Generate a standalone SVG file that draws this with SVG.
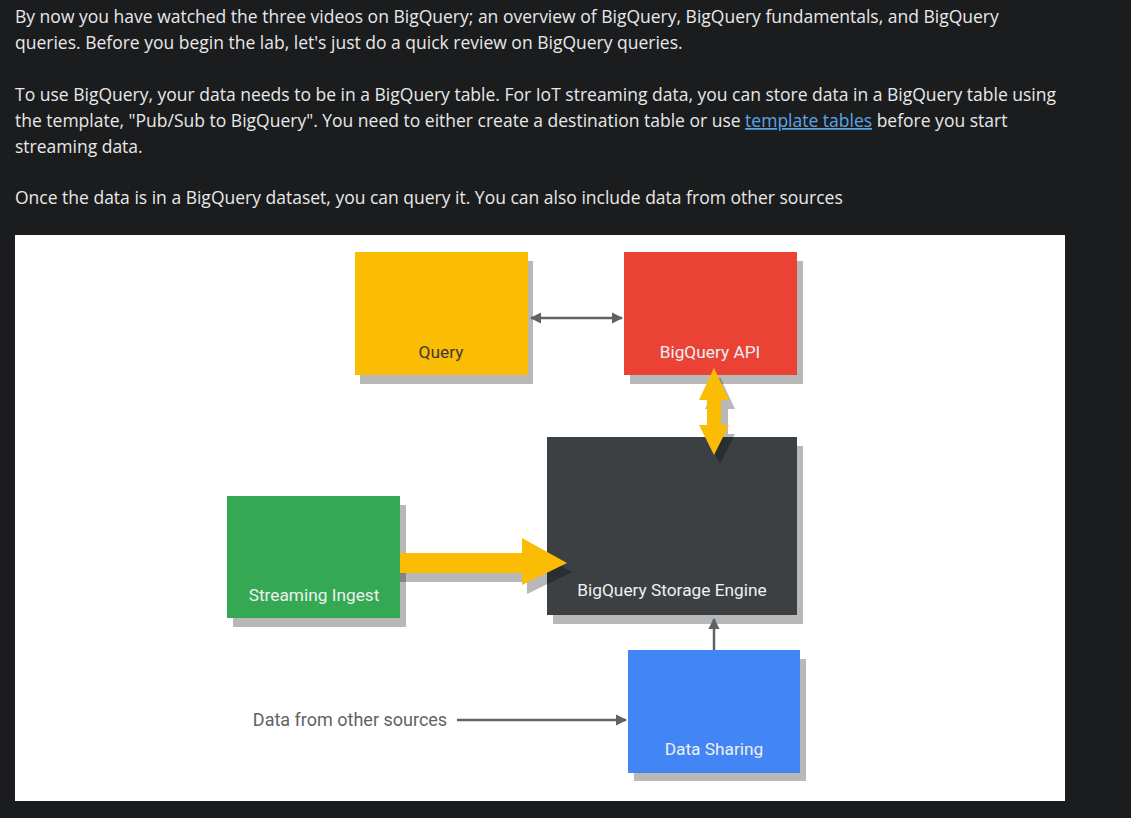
<svg xmlns="http://www.w3.org/2000/svg" width="1131" height="818" viewBox="0 0 1131 818">
<defs>
<style>
.p{font-family:"Open Sans","Liberation Sans",sans-serif;font-size:17.5px;fill:#e8e8e8}
.lk{fill:#5aa7e6;text-decoration:underline}
.lb{font-family:Roboto,"Liberation Sans",sans-serif;font-size:17.3px;text-anchor:middle;fill:#eef0f2}
.sh{fill:#000;fill-opacity:0.28}
.gl{stroke:#5f6368;stroke-width:2.5;fill:none}
</style>
<marker id="ah" viewBox="0 0 10 10" refX="9" refY="5" markerWidth="4.6" markerHeight="4.6" orient="auto-start-reverse" markerUnits="strokeWidth">
<path d="M0,0 L10,5 L0,10 z" fill="#5f6368"/>
</marker>
</defs>
<rect x="0" y="0" width="1131" height="818" fill="#1b1c1e"/>
<g id="intro">
<text class="p" x="15" y="23">By now you have watched the three videos on BigQuery; an overview of BigQuery, BigQuery fundamentals, and BigQuery</text>
<text class="p" x="15" y="49">queries. Before you begin the lab, let's just do a quick review on BigQuery queries.</text>
<text class="p" x="15" y="101">To use BigQuery, your data needs to be in a BigQuery table. For IoT streaming data, you can store data in a BigQuery table using</text>
<text class="p" x="15" y="127">the template, "Pub/Sub to BigQuery". You need to either create a destination table or use <tspan class="lk">template tables</tspan> before you start</text>
<text class="p" x="15" y="153">streaming data.</text>
<text class="p" x="15" y="204">Once the data is in a BigQuery dataset, you can query it. You can also include data from other sources</text>
</g>
<rect x="15" y="235" width="1050" height="566" fill="#ffffff"/>
<g id="query">
<rect class="sh" x="360" y="261" width="173" height="123"/>
<rect x="355" y="252" width="173" height="123" fill="#fbbc04"/>
<text class="lb" x="441" y="358" style="fill:#3a3a3a">Query</text>
</g>
<g id="api">
<rect class="sh" x="630" y="261" width="173" height="123"/>
<rect x="624" y="252" width="173" height="123" fill="#ea4335"/>
<text class="lb" x="710" y="358">BigQuery API</text>
</g>
<g id="storage">
<rect class="sh" x="553" y="446" width="250" height="178"/>
<rect x="547" y="437" width="250" height="178" fill="#3c4043"/>
<text class="lb" x="672" y="596">BigQuery Storage Engine</text>
</g>
<g id="streaming">
<rect class="sh" x="233" y="505" width="173" height="122"/>
<rect x="227" y="496" width="173" height="122" fill="#34a853"/>
<text class="lb" x="314" y="601">Streaming Ingest</text>
</g>
<g id="sharing">
<rect class="sh" x="634" y="659" width="172" height="122"/>
<rect x="628" y="650" width="172" height="123" fill="#4285f4"/>
<text class="lb" x="714" y="755">Data Sharing</text>
</g>
<g id="other">
<text class="lb" x="350" y="726" style="fill:#5f6368;font-size:18px">Data from other sources</text>
</g>
<g id="connectors">
<line class="gl" x1="531" y1="318" x2="622" y2="318" marker-start="url(#ah)" marker-end="url(#ah)"/>
<line class="gl" x1="714" y1="650" x2="714" y2="619" marker-end="url(#ah)"/>
<line class="gl" x1="457" y1="720" x2="626" y2="720" marker-end="url(#ah)"/>
<path class="sh" d="M400,562 H527 V547 L572,572 L527,594 V582 H400 z"/>
<path d="M400,553 H522 V538 L567,563 L522,585 V573 H400 z" fill="#fbbc04"/>
<path class="sh" d="M720,377 L735,409 L728,409 V434 L735,434 L720,464 L705,434 L712,434 V409 L705,409 z"/>
<path d="M714,368 L729,400 L721,400 V425 L729,425 L714,455 L699,425 L707,425 V400 L699,400 z" fill="#fbbc04"/>
</g>
</svg>
